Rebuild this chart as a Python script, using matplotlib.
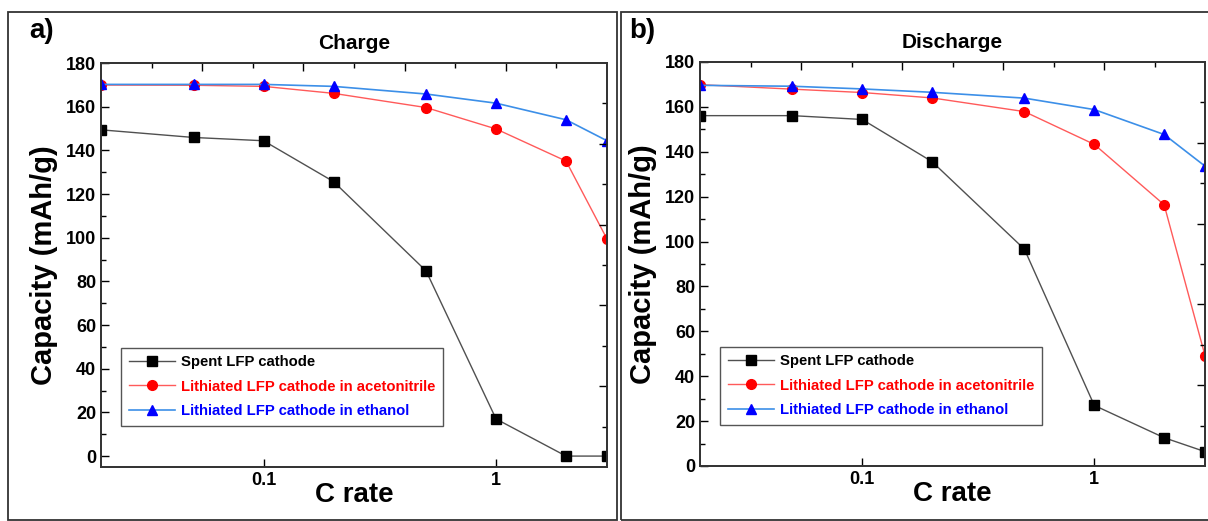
import matplotlib
matplotlib.use('Agg')
import matplotlib.pyplot as plt
from matplotlib.patches import Rectangle
from matplotlib.ticker import FixedLocator, NullFormatter, NullLocator

plt.rcParams['font.family'] = ['Liberation Sans', 'DejaVu Sans']
plt.rcParams['font.weight'] = 'bold'

# C rates
c_rate = [0.02, 0.05, 0.1, 0.2, 0.5, 1, 2, 3]

series_labels = ['Spent LFP cathode',
                 'Lithiated LFP cathode in acetonitrile',
                 'Lithiated LFP cathode in ethanol']

# Charge capacities (mAh/g)
charge_spent = [149.4, 145.9, 144.4, 125.7, 84.8, 17.0, 0.0, 0.0]
charge_acn = [169.9, 169.8, 169.3, 166.1, 159.6, 149.8, 135.1, 99.4]
charge_etoh = [170.2, 170.2, 170.2, 169.3, 165.8, 161.6, 154.0, 144.4]

# Discharge capacities (mAh/g)
discharge_spent = [156.1, 156.1, 154.4, 135.6, 96.6, 27.0, 12.6, 6.4]
discharge_acn = [169.9, 167.9, 166.4, 164.0, 157.9, 143.3, 116.4, 49.2]
discharge_etoh = [169.6, 169.2, 168.0, 166.5, 163.9, 158.8, 147.7, 133.6]

W, H = 1208, 521
fig = plt.figure(figsize=(W / 100, H / 100), dpi=100)

# panel frames
fig.patches.append(Rectangle((8 / W, 1.5 / H), 609 / W, (H - 13.5) / H, transform=fig.transFigure,
                             fill=False, edgecolor='#333333', lw=1.3))
fig.patches.append(Rectangle((621 / W, 1.5 / H), 600 / W, (H - 13.5) / H, transform=fig.transFigure,
                             fill=False, edgecolor='#333333', lw=1.3))


def draw_panel(rect, ylim, title, letter, letter_x, spent, acn, etoh):
    ax = fig.add_axes(rect)
    ax.set_xscale('log')
    ax.set_xlim(0.02, 3)
    ax.set_ylim(*ylim)

    ax.plot(c_rate, spent, color='#505050', lw=1, marker='s', ms=6.5,
            mfc='black', mec='black', label=series_labels[0])
    ax.plot(c_rate, acn, color='#ff5a5a', lw=1, marker='o', ms=7,
            mfc='red', mec='red', label=series_labels[1])
    ax.plot(c_rate, etoh, color='#3c8fe8', lw=1.2, marker='^', ms=7.5,
            mfc='blue', mec='blue', label=series_labels[2])

    ax.xaxis.set_major_locator(FixedLocator([0.1, 1]))
    ax.set_xticklabels(['0.1', '1'])
    ax.xaxis.set_minor_locator(NullLocator())
    ax.set_yticks(range(0, 181, 20))
    ax.yaxis.set_minor_locator(FixedLocator(range(10, 180, 20)))
    ax.tick_params(which='both', direction='in', labelsize=13, width=1)
    ax.tick_params(which='major', length=6)
    ax.tick_params(which='minor', length=3.5)
    for s in ax.spines.values():
        s.set_linewidth(1.1)
        s.set_color('#333333')

    ax.set_xlabel('C rate', fontsize=20, fontweight='bold')
    ax.set_ylabel('Capacity (mAh/g)', fontsize=21, fontweight='bold')
    ax.xaxis.set_label_coords(0.5, -0.038)
    ax.yaxis.set_label_coords(-0.085, 0.5)
    ax.set_title(title, fontsize=15, fontweight='bold', pad=10)

    leg = ax.legend(loc='lower left', bbox_to_anchor=(0.04, 0.102), borderaxespad=0,
                    fancybox=False, edgecolor='#555555', framealpha=1,
                    prop={'size': 10.7, 'weight': 'bold'}, labelcolor='markerfacecolor',
                    handlelength=3.1, handletextpad=0.45, borderpad=0.5, labelspacing=0.72)
    leg.get_frame().set_linewidth(1)

    # Origin-style unlabelled top / right ticks
    top = ax.twiny()
    top.set_xlim(0, 10)
    top.xaxis.set_major_locator(FixedLocator([2, 4, 6, 8]))
    top.xaxis.set_minor_locator(FixedLocator([1, 3, 5, 7, 9]))
    top.xaxis.set_major_formatter(NullFormatter())
    top.tick_params(which='both', direction='in', width=1)
    top.tick_params(which='major', length=6)
    top.tick_params(which='minor', length=3.5)
    right = ax.twinx()
    right.set_ylim(0, 10)
    right.yaxis.set_major_locator(FixedLocator([2, 4, 6, 8]))
    right.yaxis.set_minor_locator(FixedLocator([1, 3, 5, 7, 9]))
    right.yaxis.set_major_formatter(NullFormatter())
    right.tick_params(which='both', direction='in', width=1)
    right.tick_params(which='major', length=6)
    right.tick_params(which='minor', length=3.5)
    for a in (top, right):
        for s in a.spines.values():
            s.set_linewidth(1.1)
            s.set_color('#333333')

    fig.text(letter_x / W, 1 - 31 / H, letter, fontsize=20, fontweight='bold',
             ha='center', va='center')
    return ax


draw_panel([101 / W, 1 - 467 / H, 506 / W, 404 / H], (-5, 180), 'Charge', 'a)', 42,
           charge_spent, charge_acn, charge_etoh)
draw_panel([700 / W, 1 - 466 / H, 505 / W, 404 / H], (0, 180), 'Discharge', 'b)', 642,
           discharge_spent, discharge_acn, discharge_etoh)

fig.savefig('out.png', dpi=100)
